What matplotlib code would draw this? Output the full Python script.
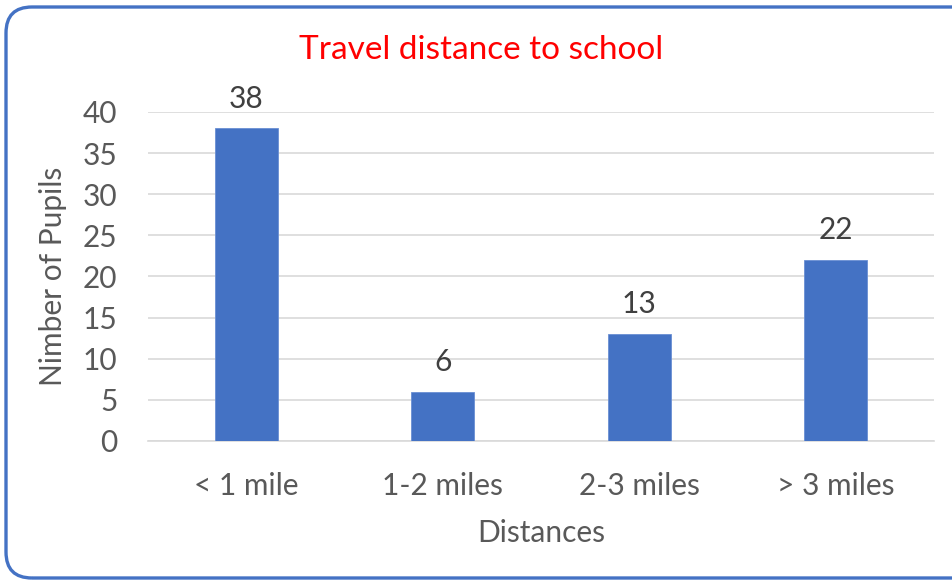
import matplotlib
matplotlib.use("Agg")
import matplotlib.pyplot as plt
from matplotlib.patches import FancyBboxPatch
from matplotlib.transforms import IdentityTransform

categories = ["< 1 mile", "1-2 miles", "2-3 miles", "> 3 miles"]
pupils = [38, 6, 13, 22]
y_ticks = [0, 5, 10, 15, 20, 25, 30, 35, 40]

BAR_COLOR = "#4472C4"
TEXT_COLOR = "#595959"
GRID_COLOR = "#D9D9D9"

plt.rcParams["font.family"] = ["Lato", "DejaVu Sans"]

fig = plt.figure(figsize=(9.52, 5.82), dpi=100)
ax = fig.add_axes([0.1555, 0.2423, 0.8256, 0.5653])

x = list(range(len(categories)))
bars = ax.bar(x, pupils, width=0.32, color=BAR_COLOR, edgecolor="#6A8FD3",
              linewidth=0.6, zorder=3)
for rect, val in zip(bars, pupils):
    ax.text(rect.get_x() + rect.get_width() / 2, val + 2.5, str(val),
            ha="center", va="baseline", fontsize=21.5, color="#404040",
            clip_on=False)

ax.set_xlim(-0.5, 3.5)
ax.set_ylim(0, 40)
ax.set_xticks(x, categories)
ax.set_yticks(y_ticks)
ax.tick_params(axis="both", length=0, labelsize=21.5, labelcolor=TEXT_COLOR)
ax.tick_params(axis="y", pad=22)
ax.tick_params(axis="x", pad=22)
ax.grid(True, axis="y", color=GRID_COLOR, linewidth=1.2, zorder=0)
for side in ("top", "right", "left"):
    ax.spines[side].set_visible(False)
ax.spines["bottom"].set_color(GRID_COLOR)
ax.spines["bottom"].set_linewidth(1.2)

ax.set_xlabel("Distances", fontsize=21.5, color=TEXT_COLOR, labelpad=14)
ax.set_ylabel("Nimber of Pupils", fontsize=21.5, color=TEXT_COLOR, labelpad=11)

fig.text(0.505, 0.914, "Travel distance to school", ha="center", va="center",
         fontsize=24, color="#FF0000")

# rounded chart border (right edge runs off the image)
border = FancyBboxPatch((6, 4), 980, 571, boxstyle="round,pad=0,rounding_size=26",
                        transform=IdentityTransform(), fill=False,
                        edgecolor=BAR_COLOR, linewidth=2.4)
fig.patches.append(border)

fig.savefig("out.png", dpi=100)
